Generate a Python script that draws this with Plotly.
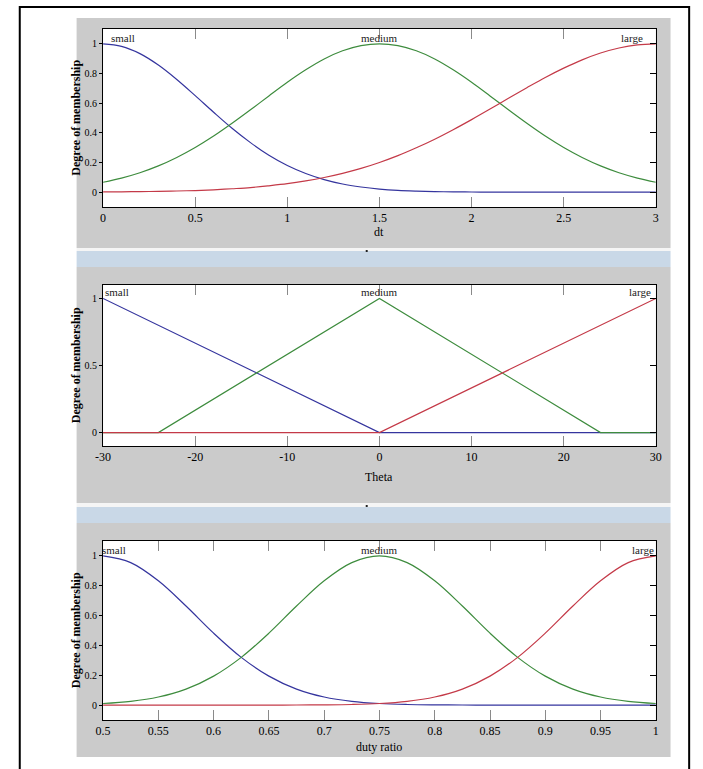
import plotly.graph_objects as go

# ---- membership-function samples -------------------------------------------
dt_x = [0.0, 0.1, 0.2, 0.3, 0.4, 0.5, 0.6, 0.7, 0.8, 0.9, 1.0, 1.1, 1.2, 1.3, 1.4, 1.5,
        1.6, 1.7, 1.8, 1.9, 2.0, 2.1, 2.2, 2.3, 2.4, 2.5, 2.6, 2.7, 2.8, 2.9, 3.0]
dt_small = [1.0, 0.983, 0.934, 0.857, 0.760, 0.651, 0.539, 0.431, 0.334, 0.249, 0.180,
            0.126, 0.085, 0.055, 0.035, 0.021, 0.012, 0.007, 0.004, 0.002, 0.001,
            0.0, 0.0, 0.0, 0.0, 0.0, 0.0, 0.0, 0.0, 0.0, 0.0]
dt_medium = [0.067, 0.095, 0.131, 0.177, 0.234, 0.301, 0.378, 0.464, 0.555, 0.649, 0.741,
             0.825, 0.898, 0.953, 0.988, 1.0, 0.988, 0.953, 0.898, 0.825, 0.741,
             0.649, 0.555, 0.464, 0.378, 0.301, 0.234, 0.177, 0.131, 0.095, 0.067]
dt_large = [0.002, 0.002, 0.004, 0.005, 0.008, 0.011, 0.016, 0.023, 0.031, 0.043, 0.057,
            0.076, 0.099, 0.127, 0.160, 0.200, 0.246, 0.299, 0.357, 0.421, 0.489,
            0.560, 0.633, 0.704, 0.773, 0.836, 0.892, 0.938, 0.972, 0.993, 1.0]

theta_small_x = [-30, 0, 30]
theta_small = [1, 0, 0]
theta_medium_x = [-30, -24, 0, 24, 30]
theta_medium = [0, 0, 1, 0, 0]
theta_large_x = [-30, 0, 30]
theta_large = [0, 0, 1]

duty_x = [0.5, 0.525, 0.55, 0.575, 0.6, 0.625, 0.65, 0.675, 0.7, 0.725, 0.75,
          0.775, 0.8, 0.825, 0.85, 0.875, 0.9, 0.925, 0.95, 0.975, 1.0]
duty_small = [1.0, 0.955, 0.833, 0.664, 0.482, 0.320, 0.194, 0.107, 0.054, 0.025, 0.0105,
              0.004, 0.0014, 0.0005, 0.0, 0.0, 0.0, 0.0, 0.0, 0.0, 0.0]
duty_medium = [0.0105, 0.025, 0.054, 0.107, 0.194, 0.320, 0.482, 0.664, 0.833, 0.955, 1.0,
               0.955, 0.833, 0.664, 0.482, 0.320, 0.194, 0.107, 0.054, 0.025, 0.0105]
duty_large = [0.0, 0.0, 0.0, 0.0, 0.0, 0.0, 0.0, 0.0005, 0.0014, 0.004, 0.0105,
              0.025, 0.054, 0.107, 0.194, 0.320, 0.482, 0.664, 0.833, 0.955, 1.0]

# ---- tick labels -------------------------------------------------------------
dt_ticks = [0, 0.5, 1, 1.5, 2, 2.5, 3]
dt_ticktext = ["0", "0.5", "1", "1.5", "2", "2.5", "3"]
theta_ticks = [-30, -20, -10, 0, 10, 20, 30]
theta_ticktext = ["-30", "-20", "-10", "0", "10", "20", "30"]
duty_ticks = [0.5, 0.55, 0.6, 0.65, 0.7, 0.75, 0.8, 0.85, 0.9, 0.95, 1.0]
duty_ticktext = ["0.5", "0.55", "0.6", "0.65", "0.7", "0.75", "0.8", "0.85", "0.9", "0.95", "1"]
fine_yticks = [0, 0.2, 0.4, 0.6, 0.8, 1]
fine_yticktext = ["0", "0.2", "0.4", "0.6", "0.8", "1"]
coarse_yticks = [0, 0.5, 1]
coarse_yticktext = ["0", "0.5", "1"]

mf_names = ["small", "medium", "large"]

# ---- page geometry (pixels) -----------------------------------------------
W, H = 703, 769
PLOT_L, PLOT_R = 97, 661
GRAY_L, GRAY_R = 70, 676

BLUE = "#35359e"
GREEN = "#3e8c3e"
RED = "#c43a48"
SERIF = "Liberation Serif, Times New Roman, serif"


def fx(p):
    return p / W


def fy(p):
    return 1 - p / H


panels = [
    dict(series=[(dt_x, dt_small), (dt_x, dt_medium), (dt_x, dt_large)],
         xrange=[0, 3], xticks=dt_ticks, xtext=dt_ticktext,
         yticks=fine_yticks, ytext=fine_yticktext,
         title="dt", top=29, bottom=207, title_y=232,
         label_x=[0.11, 1.5, 2.87], spline=True),
    dict(series=[(theta_small_x, theta_small), (theta_medium_x, theta_medium),
                 (theta_large_x, theta_large)],
         xrange=[-30, 30], xticks=theta_ticks, xtext=theta_ticktext,
         yticks=coarse_yticks, ytext=coarse_yticktext,
         title="Theta", top=285, bottom=446, title_y=477,
         label_x=[-28.5, 0, 28.3], spline=False),
    dict(series=[(duty_x, duty_small), (duty_x, duty_medium), (duty_x, duty_large)],
         xrange=[0.5, 1.0], xticks=duty_ticks, xtext=duty_ticktext,
         yticks=fine_yticks, ytext=fine_yticktext,
         title="duty ratio", top=541, bottom=720, title_y=747,
         label_x=[0.51, 0.75, 0.988], spline=True),
]

fig = go.Figure()
layout = dict(
    width=W, height=H, autosize=False,
    margin=dict(l=0, r=0, t=0, b=0, pad=0),
    paper_bgcolor="white", plot_bgcolor="rgba(0,0,0,0)",
    showlegend=False,
    font=dict(family=SERIF, size=12, color="black"),
)

shapes = []
annotations = []

# gray panel backgrounds and the pale separator strips between them
gray_bands = [(18, 248), (267, 503), (523, 757)]
for y0, y1 in gray_bands:
    shapes.append(dict(type="rect", xref="paper", yref="paper", layer="below",
                       x0=fx(GRAY_L), x1=fx(GRAY_R), y0=fy(y1), y1=fy(y0),
                       fillcolor="#cbcbcb", line=dict(width=0)))
for w0, w1, b1 in [(248, 251, 267), (503, 507, 523)]:
    shapes.append(dict(type="rect", xref="paper", yref="paper", layer="below",
                       x0=fx(GRAY_L), x1=fx(GRAY_R), y0=fy(w1), y1=fy(w0),
                       fillcolor="#f5f5f5", line=dict(width=0)))
    shapes.append(dict(type="rect", xref="paper", yref="paper", layer="below",
                       x0=fx(GRAY_L), x1=fx(GRAY_R), y0=fy(b1), y1=fy(w1),
                       fillcolor="#c9d8e7", line=dict(width=0)))
    # small dark speck just under the strip edge
    shapes.append(dict(type="rect", xref="paper", yref="paper", layer="above",
                       x0=fx(365), x1=fx(367), y0=fy(w0 + 4), y1=fy(w0 + 2),
                       fillcolor="#222222", line=dict(width=0)))

for i, p in enumerate(panels):
    k = i + 1
    xa = "x" if k == 1 else f"x{k}"
    ya = "y" if k == 1 else f"y{k}"
    ya_over = f"y{k + 3}"

    # white axes area
    shapes.append(dict(type="rect", xref="paper", yref="paper", layer="below",
                       x0=fx(PLOT_L), x1=fx(PLOT_R), y0=fy(p["bottom"]), y1=fy(p["top"]),
                       fillcolor="white", line=dict(width=0)))

    for (sx, sy), color in zip(p["series"], [BLUE, GREEN, RED]):
        fig.add_trace(go.Scatter(
            x=sx, y=sy, mode="lines", xaxis=xa, yaxis=ya,
            line=dict(color=color, width=1.2,
                      shape="spline" if p["spline"] else "linear", smoothing=1.0),
            hoverinfo="skip", cliponaxis=True))
    # carrier for the right-hand tick axis
    fig.add_trace(go.Scatter(x=[], y=[], xaxis=xa, yaxis=ya_over, hoverinfo="skip"))

    dom_y = [fy(p["bottom"]), fy(p["top"])]
    layout["xaxis" if k == 1 else f"xaxis{k}"] = dict(
        domain=[fx(PLOT_L), fx(PLOT_R)], anchor=ya, range=p["xrange"],
        tickvals=p["xticks"], ticktext=p["xtext"],
        ticks="inside", ticklen=10, tickwidth=1, tickcolor="#8a8a8a",
        showline=True, linecolor="black", linewidth=1, mirror="ticks",
        showgrid=False, zeroline=False,
        tickfont=dict(family=SERIF, size=12, color="black"),
    )
    layout["yaxis" if k == 1 else f"yaxis{k}"] = dict(
        domain=dom_y, anchor=xa, range=[-0.1, 1.1],
        tickvals=p["yticks"], ticktext=p["ytext"],
        ticks="outside", ticklen=3, tickwidth=1, tickcolor="black",
        showline=True, linecolor="black", linewidth=1, mirror=True,
        showgrid=False, zeroline=False,
        tickfont=dict(family=SERIF, size=10, color="black"),
    )
    layout[f"yaxis{k + 3}"] = dict(
        overlaying=ya, side="right", anchor=xa, range=[-0.1, 1.1],
        tickvals=p["yticks"], ticks="inside", ticklen=6, tickwidth=1,
        tickcolor="black", showticklabels=False, showline=False,
        showgrid=False, zeroline=False,
    )

    # membership function names along the top
    for lx, name in zip(p["label_x"], mf_names):
        annotations.append(dict(
            xref=xa, yref=ya, x=lx, y=1.0, yanchor="bottom", xanchor="center",
            text=name, showarrow=False, yshift=-2,
            font=dict(family=SERIF, size=11, color="#222222")))

    # axis titles
    annotations.append(dict(
        xref="paper", yref="paper", x=fx((PLOT_L + PLOT_R) / 2), y=fy(p["title_y"]),
        xanchor="center", yanchor="middle", text=p["title"], showarrow=False,
        font=dict(family=SERIF, size=12, color="black")))
    annotations.append(dict(
        xref="paper", yref="paper", x=fx(69), y=fy((p["top"] + p["bottom"]) / 2),
        xanchor="center", yanchor="middle", textangle=-90,
        text="<b>Degree of membership</b>", showarrow=False,
        font=dict(family=SERIF, size=12, color="black")))

# outer frame
shapes.append(dict(type="rect", xref="paper", yref="paper", layer="above",
                   x0=fx(12), x1=fx(695), y0=fy(775), y1=fy(7),
                   line=dict(color="black", width=2), fillcolor="rgba(0,0,0,0)"))

layout["shapes"] = shapes
layout["annotations"] = annotations
fig.update_layout(**layout)

fig.write_html("out.html")
